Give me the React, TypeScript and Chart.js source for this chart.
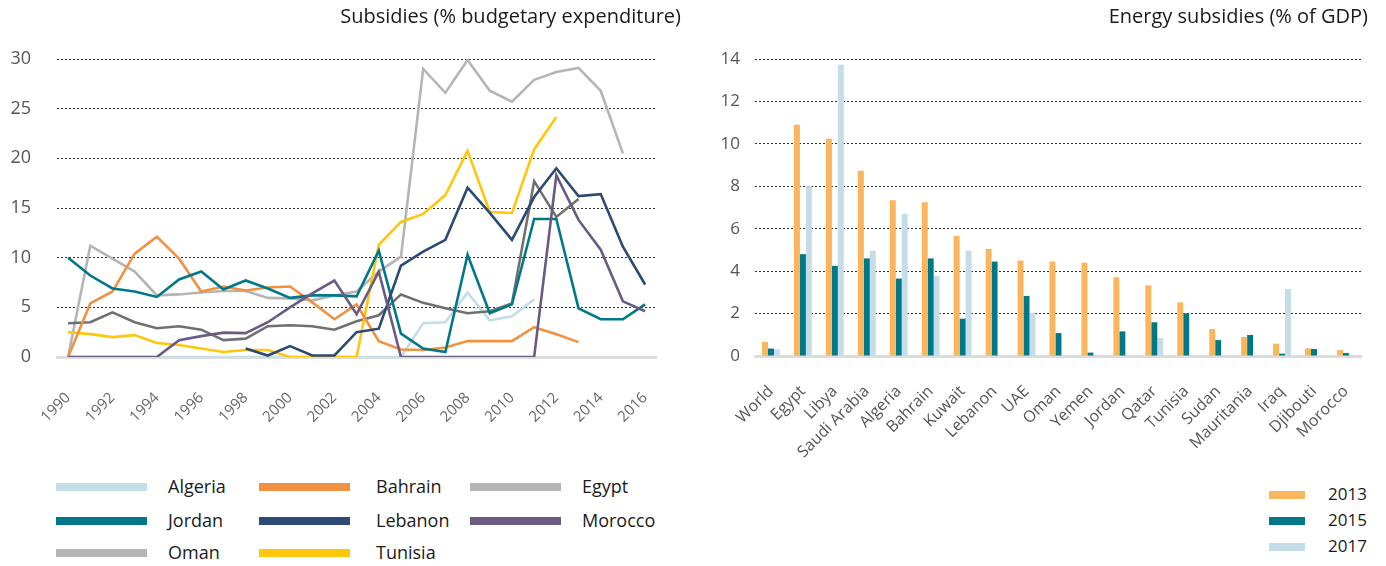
import React, { useEffect, useRef } from "react";
import { Chart, registerables } from "chart.js";

Chart.register(...registerables);

const FONT = "'Open Sans', 'Noto Sans', sans-serif";

// ---------- Left chart data: Subsidies (% budgetary expenditure) ----------
const years = [
  "1990", "1991", "1992", "1993", "1994", "1995", "1996", "1997", "1998", "1999",
  "2000", "2001", "2002", "2003", "2004", "2005", "2006", "2007", "2008", "2009",
  "2010", "2011", "2012", "2013", "2014", "2015", "2016",
];

const algeria = [0, 0, 0, 0, 0, 0, 0, 0, 0, 0, 0, 0, 0, 0, 0, 0, 3.4, 3.5, 6.5, 3.7, 4.1, 5.8, null, null, null, null, null];
const bahrain = [0, 5.4, 6.6, 10.4, 12.1, 9.9, 6.6, 7.1, 6.7, 7.0, 7.1, 5.5, 3.8, 5.3, 1.6, 0.75, 0.7, 0.95, 1.6, 1.6, 1.6, 3.0, 2.3, 1.5, null, null, null];
const egypt = [0, 11.2, 9.9, 8.6, 6.2, 6.3, 6.5, 6.65, 6.65, 5.95, 5.9, 5.7, 6.2, 6.6, 8.6, 10.1, 29.0, 26.6, 29.9, 26.8, 25.7, 27.9, 28.7, 29.1, 26.8, 20.5, null];
const jordan = [10.0, 8.2, 6.9, 6.6, 6.05, 7.8, 8.6, 6.8, 7.7, 6.9, 5.95, 6.2, 6.2, 6.1, 10.7, 2.35, 0.85, 0.5, 10.3, 4.4, 5.3, 13.9, 13.9, 4.9, 3.8, 3.8, 5.3];
const lebanon = [null, null, null, null, null, null, null, null, 0.85, 0.15, 1.1, 0.15, 0.15, 2.5, 2.85, 9.2, 10.6, 11.8, 17.05, 14.5, 11.8, 16.1, 19.0, 16.2, 16.4, 11.1, 7.3];
const morocco = [0, 0, 0, 0, 0, 1.7, 2.1, 2.45, 2.4, 3.5, 5.0, 6.4, 7.7, 4.3, 8.6, 0, 0, 0, 0, 0, 0, 0, 18.3, 13.8, 10.8, 5.6, 4.6];
const oman = [3.4, 3.5, 4.5, 3.5, 2.9, 3.1, 2.75, 1.7, 1.85, 3.1, 3.2, 3.1, 2.75, 3.6, 4.2, 6.3, 5.45, 4.9, 4.4, 4.6, 5.4, 17.7, 14.1, 15.9, null, null, null];
const tunisia = [2.5, 2.3, 2.0, 2.2, 1.4, 1.2, 0.85, 0.5, 0.7, 0.7, 0, 0, 0, 0, 11.3, 13.6, 14.4, 16.3, 20.75, 14.6, 14.5, 20.9, 24.15, null, null, null, null];

const leftSeries = [
  { label: "Algeria", data: algeria, color: "#c5dde6", legend: "#c5dde6", order: 8 },
  { label: "Bahrain", data: bahrain, color: "#f29140", legend: "#f29140", order: 4 },
  { label: "Egypt", data: egypt, color: "#b5b5b5", legend: "#b5b5b5", order: 7 },
  { label: "Jordan", data: jordan, color: "#00788a", legend: "#00788a", order: 3 },
  { label: "Lebanon", data: lebanon, color: "#2c4a73", legend: "#2c4a73", order: 2 },
  { label: "Morocco", data: morocco, color: "#6a5b84", legend: "#6a5b84", order: 1 },
  { label: "Oman", data: oman, color: "#707070", legend: "#b5b5b5", order: 6 },
  { label: "Tunisia", data: tunisia, color: "#fdc80c", legend: "#fdc80c", order: 5 },
];

// ---------- Right chart data: Energy subsidies (% of GDP) ----------
const energyCountries = [
  "World", "Egypt", "Libya", "Saudi Arabia", "Algeria", "Bahrain", "Kuwait", "Lebanon", "UAE", "Oman",
  "Yemen", "Jordan", "Qatar", "Tunisia", "Sudan", "Mauritania", "Iraq", "Djibouti", "Morocco",
];
const energy2013 = [0.66, 10.9, 10.24, 8.73, 7.34, 7.25, 5.66, 5.05, 4.5, 4.45, 4.4, 3.71, 3.33, 2.53, 1.27, 0.9, 0.58, 0.36, 0.28];
const energy2015 = [0.35, 4.8, 4.25, 4.6, 3.65, 4.6, 1.76, 4.45, 2.83, 1.08, 0.16, 1.16, 1.59, 2.01, 0.75, 0.99, 0.11, 0.33, 0.14];
const energy2017 = [0.31, 8.0, 13.73, 4.97, 6.7, 3.77, 4.97, null, 2.04, null, null, null, 0.85, null, null, null, 3.16, null, null];

const rightSeries = [
  { label: "2013", data: energy2013, color: "#fbb55b" },
  { label: "2015", data: energy2015, color: "#00788a" },
  { label: "2017", data: energy2017, color: "#c5dde6" },
];

const LEFT_W = 690;
const LEFT_H = 430;
const RIGHT_W = 696;
const RIGHT_H = 470;

function LeftChart() {
  const ref = useRef<HTMLCanvasElement | null>(null);
  useEffect(() => {
    if (!ref.current) return;
    const chart = new Chart(ref.current, {
      type: "line",
      data: {
        labels: years,
        datasets: leftSeries.map((s) => ({
          label: s.label,
          data: s.data,
          borderColor: s.color,
          backgroundColor: s.color,
          borderWidth: 2.6,
          pointRadius: 0,
          tension: 0,
          fill: false,
          spanGaps: false,
          order: s.order,
        })),
      },
      options: {
        animation: false,
        responsive: false,
        maintainAspectRatio: false,
        layout: { padding: { left: 0, right: 9, top: 0, bottom: 0 } },
        plugins: {
          legend: { display: false },
          tooltip: { enabled: false },
          title: {
            display: true,
            text: "Subsidies (% budgetary expenditure)",
            align: "end",
            color: "#1a1a1a",
            font: { family: FONT, size: 20, weight: "normal" },
            padding: { top: 5, bottom: 30 },
          },
        },
        scales: {
          x: {
            type: "category",
            offset: true,
            grid: { display: false, drawTicks: false },
            border: { display: true, color: "#dcdcdc", width: 3 },
            ticks: {
              autoSkip: false,
              minRotation: 45,
              maxRotation: 45,
              color: "#666666",
              font: { family: FONT, size: 15 },
              padding: 32,
              callback: (_v: any, i: number) => (i % 2 === 0 ? years[i] : ""),
            },
            afterFit: (s: any) => {
              s.height = LEFT_H - 357;
            },
          },
          y: {
            min: 0,
            max: 30,
            ticks: { stepSize: 5, color: "#555555", font: { family: FONT, size: 18 }, padding: 26 },
            grid: { color: "#333333", lineWidth: 1, drawTicks: false },
            border: { display: false, dash: [2, 2] },
            afterFit: (s: any) => {
              s.width = 57;
            },
          },
        },
      },
    });
    return () => chart.destroy();
  }, []);
  return <canvas ref={ref} width={LEFT_W} height={LEFT_H} style={{ position: "absolute", left: 0, top: 0, width: LEFT_W, height: LEFT_H }} />;
}

function RightChart() {
  const ref = useRef<HTMLCanvasElement | null>(null);
  useEffect(() => {
    if (!ref.current) return;
    const chart = new Chart(ref.current, {
      type: "bar",
      data: {
        labels: energyCountries,
        datasets: rightSeries.map((s) => ({
          label: s.label,
          data: s.data,
          backgroundColor: s.color,
          borderWidth: 0,
          categoryPercentage: 0.56,
          barPercentage: 1.0,
        })),
      },
      options: {
        animation: false,
        responsive: false,
        maintainAspectRatio: false,
        layout: { padding: { left: 0, right: 18, top: 0, bottom: 0 } },
        plugins: {
          legend: { display: false },
          tooltip: { enabled: false },
          title: {
            display: true,
            text: "Energy subsidies (% of GDP)",
            align: "end",
            color: "#1a1a1a",
            font: { family: FONT, size: 20, weight: "normal" },
            padding: { top: 5, bottom: 30 },
          },
        },
        scales: {
          x: {
            type: "category",
            offset: true,
            grid: { display: false, drawTicks: false },
            border: { display: true, color: "#dcdcdc", width: 3 },
            ticks: {
              autoSkip: false,
              minRotation: 45,
              maxRotation: 45,
              color: "#555555",
              font: { family: FONT, size: 16 },
              padding: 26,
            },
            afterFit: (s: any) => {
              s.height = RIGHT_H - 356;
            },
          },
          y: {
            min: 0,
            max: 14,
            ticks: { stepSize: 2, color: "#555555", font: { family: FONT, size: 17 }, padding: 15 },
            grid: { color: "#333333", lineWidth: 1, drawTicks: false },
            border: { display: false, dash: [2, 2] },
            afterFit: (s: any) => {
              s.width = 65;
            },
          },
        },
      },
    });
    return () => chart.destroy();
  }, []);
  return <canvas ref={ref} width={RIGHT_W} height={RIGHT_H} style={{ position: "absolute", left: LEFT_W, top: 0, width: RIGHT_W, height: RIGHT_H }} />;
}

const textStyle: React.CSSProperties = {
  position: "absolute",
  fontFamily: FONT,
  color: "#1a1a1a",
  lineHeight: "22px",
  whiteSpace: "nowrap",
};

function LeftLegend() {
  const colSwatch = [56, 259, 470];
  const colText = [168, 376, 582];
  const rowY = [487, 521, 553];
  return (
    <>
      {leftSeries.map((s, i) => {
        const col = i % 3;
        const row = Math.floor(i / 3);
        return (
          <React.Fragment key={s.label}>
            <div style={{ position: "absolute", left: colSwatch[col], top: rowY[row] - 4, width: 91, height: 8, background: s.legend }} />
            <div style={{ ...textStyle, fontSize: 18, left: colText[col], top: rowY[row] - 12 }}>{s.label}</div>
          </React.Fragment>
        );
      })}
    </>
  );
}

function RightLegend() {
  const rowY = [495, 521, 547];
  return (
    <>
      {rightSeries.map((s, i) => (
        <React.Fragment key={s.label}>
          <div style={{ position: "absolute", left: 1269, top: rowY[i] - 4, width: 36, height: 8, background: s.color }} />
          <div style={{ ...textStyle, fontSize: 17, left: 1328, top: rowY[i] - 12 }}>{s.label}</div>
        </React.Fragment>
      ))}
    </>
  );
}

export default function App() {
  return (
    <div style={{ position: "absolute", left: 0, top: 0, width: 1386, height: 566, background: "#ffffff", overflow: "hidden" }}>
      <LeftChart />
      <RightChart />
      <LeftLegend />
      <RightLegend />
    </div>
  );
}
